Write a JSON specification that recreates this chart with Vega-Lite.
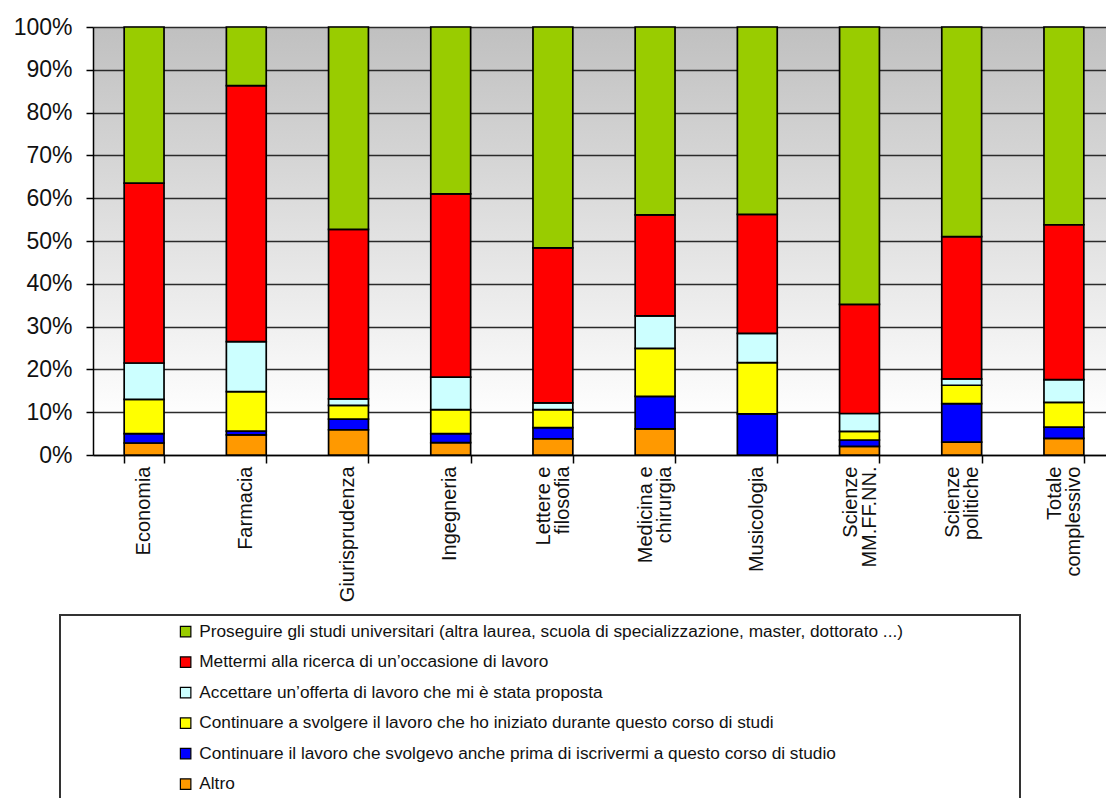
{
  "$schema": "https://vega.github.io/schema/vega-lite/v6.json",
  "autosize": {"type": "none"},
  "padding": {"left": 93, "top": 27, "right": 0, "bottom": 343},
  "width": 1013,
  "height": 428,
  "background": "#ffffff",
  "view": {
    "stroke": null,
    "fill": {
      "gradient": "linear",
      "x1": 0, "y1": 0, "x2": 0, "y2": 1,
      "stops": [
        {"offset": 0, "color": "#c0c0c0"},
        {"offset": 0.92, "color": "#ffffff"},
        {"offset": 1, "color": "#ffffff"}
      ]
    }
  },
  "config": {
    "font": "Liberation Sans",
    "axis": {
      "domainColor": "#000000",
      "domainWidth": 1.5,
      "tickColor": "#000000",
      "tickWidth": 1.5,
      "labelColor": "#111111",
      "labelFont": "Liberation Sans",
      "title": null
    },
    "legend": {"strokeWidth": 2}
  },
  "data": {
    "values": [
      {"facolta": "Economia", "voce": "Altro", "quota": 2.8},
      {"facolta": "Economia", "voce": "Continuare il lavoro che svolgevo anche prima di iscrivermi a questo corso di studio", "quota": 2.2},
      {"facolta": "Economia", "voce": "Continuare a svolgere il lavoro che ho iniziato durante questo corso di studi", "quota": 8.0},
      {"facolta": "Economia", "voce": "Accettare un’offerta di lavoro che mi è stata proposta", "quota": 8.5},
      {"facolta": "Economia", "voce": "Mettermi alla ricerca di un’occasione di lavoro", "quota": 42.0},
      {"facolta": "Economia", "voce": "Proseguire gli studi universitari (altra laurea, scuola di specializzazione, master, dottorato ...)", "quota": 36.5},

      {"facolta": "Farmacia", "voce": "Altro", "quota": 4.7},
      {"facolta": "Farmacia", "voce": "Continuare il lavoro che svolgevo anche prima di iscrivermi a questo corso di studio", "quota": 0.9},
      {"facolta": "Farmacia", "voce": "Continuare a svolgere il lavoro che ho iniziato durante questo corso di studi", "quota": 9.2},
      {"facolta": "Farmacia", "voce": "Accettare un’offerta di lavoro che mi è stata proposta", "quota": 11.7},
      {"facolta": "Farmacia", "voce": "Mettermi alla ricerca di un’occasione di lavoro", "quota": 59.8},
      {"facolta": "Farmacia", "voce": "Proseguire gli studi universitari (altra laurea, scuola di specializzazione, master, dottorato ...)", "quota": 13.7},

      {"facolta": "Giurisprudenza", "voce": "Altro", "quota": 5.9},
      {"facolta": "Giurisprudenza", "voce": "Continuare il lavoro che svolgevo anche prima di iscrivermi a questo corso di studio", "quota": 2.5},
      {"facolta": "Giurisprudenza", "voce": "Continuare a svolgere il lavoro che ho iniziato durante questo corso di studi", "quota": 3.2},
      {"facolta": "Giurisprudenza", "voce": "Accettare un’offerta di lavoro che mi è stata proposta", "quota": 1.5},
      {"facolta": "Giurisprudenza", "voce": "Mettermi alla ricerca di un’occasione di lavoro", "quota": 39.6},
      {"facolta": "Giurisprudenza", "voce": "Proseguire gli studi universitari (altra laurea, scuola di specializzazione, master, dottorato ...)", "quota": 47.3},

      {"facolta": "Ingegneria", "voce": "Altro", "quota": 2.9},
      {"facolta": "Ingegneria", "voce": "Continuare il lavoro che svolgevo anche prima di iscrivermi a questo corso di studio", "quota": 2.1},
      {"facolta": "Ingegneria", "voce": "Continuare a svolgere il lavoro che ho iniziato durante questo corso di studi", "quota": 5.6},
      {"facolta": "Ingegneria", "voce": "Accettare un’offerta di lavoro che mi è stata proposta", "quota": 7.6},
      {"facolta": "Ingegneria", "voce": "Mettermi alla ricerca di un’occasione di lavoro", "quota": 42.8},
      {"facolta": "Ingegneria", "voce": "Proseguire gli studi universitari (altra laurea, scuola di specializzazione, master, dottorato ...)", "quota": 39.0},

      {"facolta": "Lettere e\nfilosofia", "voce": "Altro", "quota": 3.8},
      {"facolta": "Lettere e\nfilosofia", "voce": "Continuare il lavoro che svolgevo anche prima di iscrivermi a questo corso di studio", "quota": 2.6},
      {"facolta": "Lettere e\nfilosofia", "voce": "Continuare a svolgere il lavoro che ho iniziato durante questo corso di studi", "quota": 4.2},
      {"facolta": "Lettere e\nfilosofia", "voce": "Accettare un’offerta di lavoro che mi è stata proposta", "quota": 1.6},
      {"facolta": "Lettere e\nfilosofia", "voce": "Mettermi alla ricerca di un’occasione di lavoro", "quota": 36.2},
      {"facolta": "Lettere e\nfilosofia", "voce": "Proseguire gli studi universitari (altra laurea, scuola di specializzazione, master, dottorato ...)", "quota": 51.6},

      {"facolta": "Medicina e\nchirurgia", "voce": "Altro", "quota": 6.1},
      {"facolta": "Medicina e\nchirurgia", "voce": "Continuare il lavoro che svolgevo anche prima di iscrivermi a questo corso di studio", "quota": 7.6},
      {"facolta": "Medicina e\nchirurgia", "voce": "Continuare a svolgere il lavoro che ho iniziato durante questo corso di studi", "quota": 11.2},
      {"facolta": "Medicina e\nchirurgia", "voce": "Accettare un’offerta di lavoro che mi è stata proposta", "quota": 7.6},
      {"facolta": "Medicina e\nchirurgia", "voce": "Mettermi alla ricerca di un’occasione di lavoro", "quota": 23.6},
      {"facolta": "Medicina e\nchirurgia", "voce": "Proseguire gli studi universitari (altra laurea, scuola di specializzazione, master, dottorato ...)", "quota": 43.9},

      {"facolta": "Musicologia", "voce": "Altro", "quota": 0},
      {"facolta": "Musicologia", "voce": "Continuare il lavoro che svolgevo anche prima di iscrivermi a questo corso di studio", "quota": 9.6},
      {"facolta": "Musicologia", "voce": "Continuare a svolgere il lavoro che ho iniziato durante questo corso di studi", "quota": 12.0},
      {"facolta": "Musicologia", "voce": "Accettare un’offerta di lavoro che mi è stata proposta", "quota": 6.8},
      {"facolta": "Musicologia", "voce": "Mettermi alla ricerca di un’occasione di lavoro", "quota": 27.8},
      {"facolta": "Musicologia", "voce": "Proseguire gli studi universitari (altra laurea, scuola di specializzazione, master, dottorato ...)", "quota": 43.8},

      {"facolta": "Scienze\nMM.FF.NN.", "voce": "Altro", "quota": 2.0},
      {"facolta": "Scienze\nMM.FF.NN.", "voce": "Continuare il lavoro che svolgevo anche prima di iscrivermi a questo corso di studio", "quota": 1.5},
      {"facolta": "Scienze\nMM.FF.NN.", "voce": "Continuare a svolgere il lavoro che ho iniziato durante questo corso di studi", "quota": 2.0},
      {"facolta": "Scienze\nMM.FF.NN.", "voce": "Accettare un’offerta di lavoro che mi è stata proposta", "quota": 4.2},
      {"facolta": "Scienze\nMM.FF.NN.", "voce": "Mettermi alla ricerca di un’occasione di lavoro", "quota": 25.5},
      {"facolta": "Scienze\nMM.FF.NN.", "voce": "Proseguire gli studi universitari (altra laurea, scuola di specializzazione, master, dottorato ...)", "quota": 64.8},

      {"facolta": "Scienze\npolitiche", "voce": "Altro", "quota": 3.0},
      {"facolta": "Scienze\npolitiche", "voce": "Continuare il lavoro che svolgevo anche prima di iscrivermi a questo corso di studio", "quota": 9.0},
      {"facolta": "Scienze\npolitiche", "voce": "Continuare a svolgere il lavoro che ho iniziato durante questo corso di studi", "quota": 4.3},
      {"facolta": "Scienze\npolitiche", "voce": "Accettare un’offerta di lavoro che mi è stata proposta", "quota": 1.5},
      {"facolta": "Scienze\npolitiche", "voce": "Mettermi alla ricerca di un’occasione di lavoro", "quota": 33.2},
      {"facolta": "Scienze\npolitiche", "voce": "Proseguire gli studi universitari (altra laurea, scuola di specializzazione, master, dottorato ...)", "quota": 49.0},

      {"facolta": "Totale\ncomplessivo", "voce": "Altro", "quota": 3.9},
      {"facolta": "Totale\ncomplessivo", "voce": "Continuare il lavoro che svolgevo anche prima di iscrivermi a questo corso di studio", "quota": 2.6},
      {"facolta": "Totale\ncomplessivo", "voce": "Continuare a svolgere il lavoro che ho iniziato durante questo corso di studi", "quota": 5.8},
      {"facolta": "Totale\ncomplessivo", "voce": "Accettare un’offerta di lavoro che mi è stata proposta", "quota": 5.3},
      {"facolta": "Totale\ncomplessivo", "voce": "Mettermi alla ricerca di un’occasione di lavoro", "quota": 36.2},
      {"facolta": "Totale\ncomplessivo", "voce": "Proseguire gli studi universitari (altra laurea, scuola di specializzazione, master, dottorato ...)", "quota": 46.2}
    ]
  },
  "transform": [
    {
      "calculate": "indexof(['Altro', 'Continuare il lavoro che svolgevo anche prima di iscrivermi a questo corso di studio', 'Continuare a svolgere il lavoro che ho iniziato durante questo corso di studi', 'Accettare un’offerta di lavoro che mi è stata proposta', 'Mettermi alla ricerca di un’occasione di lavoro', 'Proseguire gli studi universitari (altra laurea, scuola di specializzazione, master, dottorato ...)'], datum.voce)",
      "as": "livello"
    }
  ],
  "mark": {"type": "bar", "stroke": "#000000", "strokeWidth": 1.7},
  "encoding": {
    "x": {
      "field": "facolta",
      "type": "nominal",
      "sort": null,
      "scale": {"range": [0, 1022], "paddingInner": 0.61, "paddingOuter": 0.305},
      "axis": {
        "labelAngle": -90,
        "labelFontSize": 20,
        "labelLineHeight": 19,
        "labelPadding": 3,
        "labelOffset": {"condition": {"test": "indexof(datum.label, '\\n') >= 0", "value": -9.5}, "value": -1},
        "tickSize": 8,
        "tickBand": "extent",
        "grid": false,
        "labelExpr": "split(datum.label, '\\n')"
      }
    },
    "y": {
      "field": "quota",
      "type": "quantitative",
      "stack": "zero",
      "scale": {"domain": [0, 100], "nice": false},
      "axis": {
        "values": [0, 10, 20, 30, 40, 50, 60, 70, 80, 90, 100],
        "labelExpr": "datum.value + '%'",
        "labelFontSize": 23,
        "labelPadding": 14,
        "tickSize": 7,
        "grid": true,
        "gridColor": "#2a2a2a",
        "gridWidth": 1.7
      }
    },
    "color": {
      "field": "voce",
      "type": "nominal",
      "scale": {
        "domain": [
          "Proseguire gli studi universitari (altra laurea, scuola di specializzazione, master, dottorato ...)",
          "Mettermi alla ricerca di un’occasione di lavoro",
          "Accettare un’offerta di lavoro che mi è stata proposta",
          "Continuare a svolgere il lavoro che ho iniziato durante questo corso di studi",
          "Continuare il lavoro che svolgevo anche prima di iscrivermi a questo corso di studio",
          "Altro"
        ],
        "range": ["#99cc00", "#ff0000", "#ccffff", "#ffff00", "#0000ff", "#ff9900"]
      },
      "legend": {
        "orient": "none",
        "legendX": -33,
        "legendY": 588,
        "title": "\u00a0",
        "titleOrient": "right",
        "titleFontSize": 1,
        "titlePadding": 109,
        "padding": 8,
        "symbolOffset": 109,
        "symbolType": "square",
        "symbolSize": 110,
        "symbolStrokeColor": "#000000",
        "symbolStrokeWidth": 1.2,
        "labelFontSize": 17.25,
        "labelFont": "Liberation Sans",
        "labelColor": "#111111",
        "labelLimit": 1200,
        "labelOffset": 5,
        "rowPadding": 12.5,
        "strokeColor": "#333333",
        "fillColor": "#ffffff"
      }
    },
    "order": {"field": "livello", "type": "quantitative"}
  }
}
